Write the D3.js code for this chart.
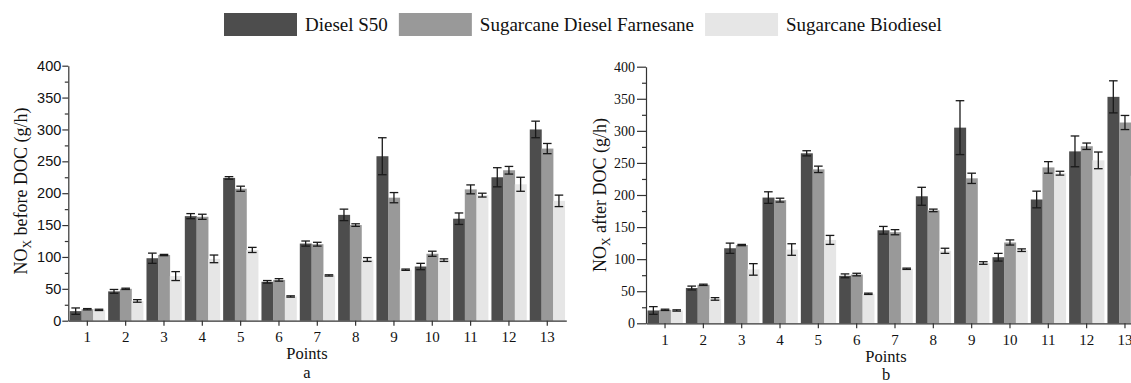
<!DOCTYPE html>
<html>
<head>
<meta charset="utf-8">
<script src="https://cdn.jsdelivr.net/npm/d3@7"></script>
<style>
  html, body { margin: 0; padding: 0; background: #fff; overflow: hidden; }
  svg { display: block; }
</style>
</head>
<body>
<svg id="chart" width="1131" height="383"></svg>
<script>
// Operating points and fuels
const points = ["1","2","3","4","5","6","7","8","9","10","11","12","13"];
const fuels = ["Diesel S50", "Sugarcane Diesel Farnesane", "Sugarcane Biodiesel"];
const yTicks = [0, 50, 100, 150, 200, 250, 300, 350, 400];
const yMinorTicks = [25, 75, 125, 175, 225, 275, 325, 375];

// NOx before DOC (g/h): means and error half-widths
const beforeDiesel     = [15, 46, 98, 164, 224, 61, 121, 166, 258, 85, 160, 225, 300];
const beforeDieselErr  = [5, 3, 8, 4, 2, 2, 4, 9, 29, 5, 9, 15, 13];
const beforeFarnesane  = [18, 50, 103, 163, 207, 64, 120, 150, 193, 105, 206, 236, 270];
const beforeFarnErr    = [1, 1, 1, 4, 4, 2, 3, 2, 8, 4, 7, 6, 8];
const beforeBiodiesel  = [17, 31, 70, 97, 111, 38, 71, 96, 80, 95, 197, 214, 188];
const beforeBioErr     = [1, 2, 7, 6, 4, 1, 1, 3, 1, 2, 3, 11, 9];

// NOx after DOC (g/h): means and error half-widths
const afterDiesel      = [20, 55, 117, 196, 265, 74, 145, 198, 305, 103, 193, 268, 353];
const afterDieselErr   = [6, 3, 8, 9, 4, 3, 6, 14, 42, 6, 13, 24, 25];
const afterFarnesane   = [21, 60, 122, 192, 240, 76, 142, 176, 226, 126, 243, 276, 313];
const afterFarnErr     = [1, 1, 1, 3, 5, 2, 4, 2, 8, 4, 9, 5, 11];
const afterBiodiesel   = [20, 38, 84, 115, 130, 46, 85, 113, 94, 114, 234, 254, 230];
const afterBioErr      = [1, 2, 9, 9, 7, 1, 1, 4, 2, 2, 3, 13, 10];

const colors = ["#4d4d4d", "#999999", "#e6e6e6"];
const serif = "'Liberation Serif', 'Times New Roman', serif";
const sans = "'Liberation Sans', Arial, sans-serif";

const svg = d3.select("#chart");

function drawPanel(opt) {
  const g = svg.append("g");
  const x = d3.scaleBand().domain(points).range(opt.xRange)
    .paddingInner(0.087).paddingOuter(0.04);
  const xs = d3.scaleBand().domain(d3.range(3)).range([0, x.bandwidth()]);
  const y = d3.scaleLinear().domain([0, 400]).range(opt.yRange);

  const rows = points.map((p, i) => ({
    point: p,
    vals: opt.means.map((m, k) => ({ k, v: m[i], e: opt.errs[k][i] }))
  }));

  const grp = g.selectAll("g.grp").data(rows).join("g")
    .attr("class", "grp")
    .attr("transform", d => `translate(${x(d.point)},0)`);

  grp.selectAll("rect").data(d => d.vals).join("rect")
    .attr("x", d => xs(d.k))
    .attr("width", xs.bandwidth() + 0.3)
    .attr("y", d => y(d.v))
    .attr("height", d => y(0) - y(d.v))
    .attr("fill", d => colors[d.k]);

  // error bars
  const eb = grp.selectAll("g.err").data(d => d.vals).join("g").attr("class", "err")
    .attr("stroke", "#1a1a1a").attr("stroke-width", 1.3);
  const cap = 4.3;
  eb.append("line")
    .attr("x1", d => xs(d.k) + xs.bandwidth() / 2).attr("x2", d => xs(d.k) + xs.bandwidth() / 2)
    .attr("y1", d => y(d.v - d.e)).attr("y2", d => y(d.v + d.e));
  eb.append("line")
    .attr("x1", d => xs(d.k) + xs.bandwidth() / 2 - cap).attr("x2", d => xs(d.k) + xs.bandwidth() / 2 + cap)
    .attr("y1", d => y(d.v + d.e)).attr("y2", d => y(d.v + d.e));
  eb.append("line")
    .attr("x1", d => xs(d.k) + xs.bandwidth() / 2 - cap).attr("x2", d => xs(d.k) + xs.bandwidth() / 2 + cap)
    .attr("y1", d => y(d.v - d.e)).attr("y2", d => y(d.v - d.e));

  // y axis
  const yAxis = g.append("g").attr("transform", `translate(${opt.xRange[0]},0)`)
    .call(d3.axisLeft(y).tickValues(yTicks).tickSize(opt.tickLen).tickSizeOuter(0).tickPadding(opt.tickPad));
  yAxis.selectAll("text").attr("font-family", opt.yFont).attr("font-size", opt.yFontSize).attr("fill", "#111");
  const yMinor = g.append("g").attr("transform", `translate(${opt.xRange[0]},0)`)
    .call(d3.axisLeft(y).tickValues(yMinorTicks).tickSize(opt.minorLen).tickSizeOuter(0).tickFormat(""));
  yMinor.select(".domain").remove();

  // x axis
  const xAxis = g.append("g").attr("transform", `translate(0,${y(0)})`)
    .call(d3.axisBottom(x).tickSize(5).tickSizeOuter(0).tickPadding(6));
  xAxis.selectAll("text").attr("font-family", serif).attr("font-size", 15).attr("fill", "#111");

  [yAxis, yMinor, xAxis].forEach(a => {
    a.selectAll("path, line").attr("stroke", "#333").attr("stroke-width", 1.2);
  });

  // axis titles
  const yt = g.append("text")
    .attr("transform", `translate(${opt.yTitleX},${opt.yTitleY}) rotate(-90)`)
    .attr("text-anchor", "middle")
    .attr("font-family", serif).attr("font-size", 18).attr("fill", "#111");
  yt.append("tspan").text("NO");
  yt.append("tspan").text("X").attr("font-size", 12).attr("dy", 4);
  yt.append("tspan").text(" " + opt.yTitle).attr("dy", -4);

  g.append("text").attr("x", opt.labelX).attr("y", opt.pointsY)
    .attr("text-anchor", "middle").attr("font-family", serif).attr("font-size", 16.5)
    .attr("fill", "#111").text("Points");
  g.append("text").attr("x", opt.labelX).attr("y", opt.letterY)
    .attr("text-anchor", "middle").attr("font-family", serif).attr("font-size", 16.5)
    .attr("fill", "#111").text(opt.letter);
}

drawPanel({
  xRange: [68.3, 566.3], yRange: [320.7, 65.7],
  means: [beforeDiesel, beforeFarnesane, beforeBiodiesel],
  errs: [beforeDieselErr, beforeFarnErr, beforeBioErr],
  yFont: sans, yFontSize: 14.5, tickLen: 6, minorLen: 3.5, tickPad: 1,
  yTitle: "before DOC (g/h)", yTitleX: 27, yTitleY: 191,
  labelX: 307, pointsY: 359, letterY: 378, letter: "a"
});

drawPanel({
  xRange: [646, 1144], yRange: [323.3, 66.7],
  means: [afterDiesel, afterFarnesane, afterBiodiesel],
  errs: [afterDieselErr, afterFarnErr, afterBioErr],
  yFont: serif, yFontSize: 14, tickLen: 9, minorLen: 4, tickPad: 2,
  yTitle: "after DOC (g/h)", yTitleX: 606, yTitleY: 195,
  labelX: 886, pointsY: 362, letterY: 380, letter: "b"
});

// legend laid out left to right from measured text widths
const legend = svg.append("g");
let lx = 224;
fuels.forEach((name, i) => {
  legend.append("rect").attr("x", lx).attr("y", 13).attr("width", 73).attr("height", 23)
    .attr("fill", colors[i]);
  const t = legend.append("text").attr("x", lx + 81).attr("y", 31)
    .attr("font-family", serif).attr("font-size", 19).attr("fill", "#111").text(name);
  lx = lx + 81 + t.node().getComputedTextLength() + 11;
});
</script>
</body>
</html>
